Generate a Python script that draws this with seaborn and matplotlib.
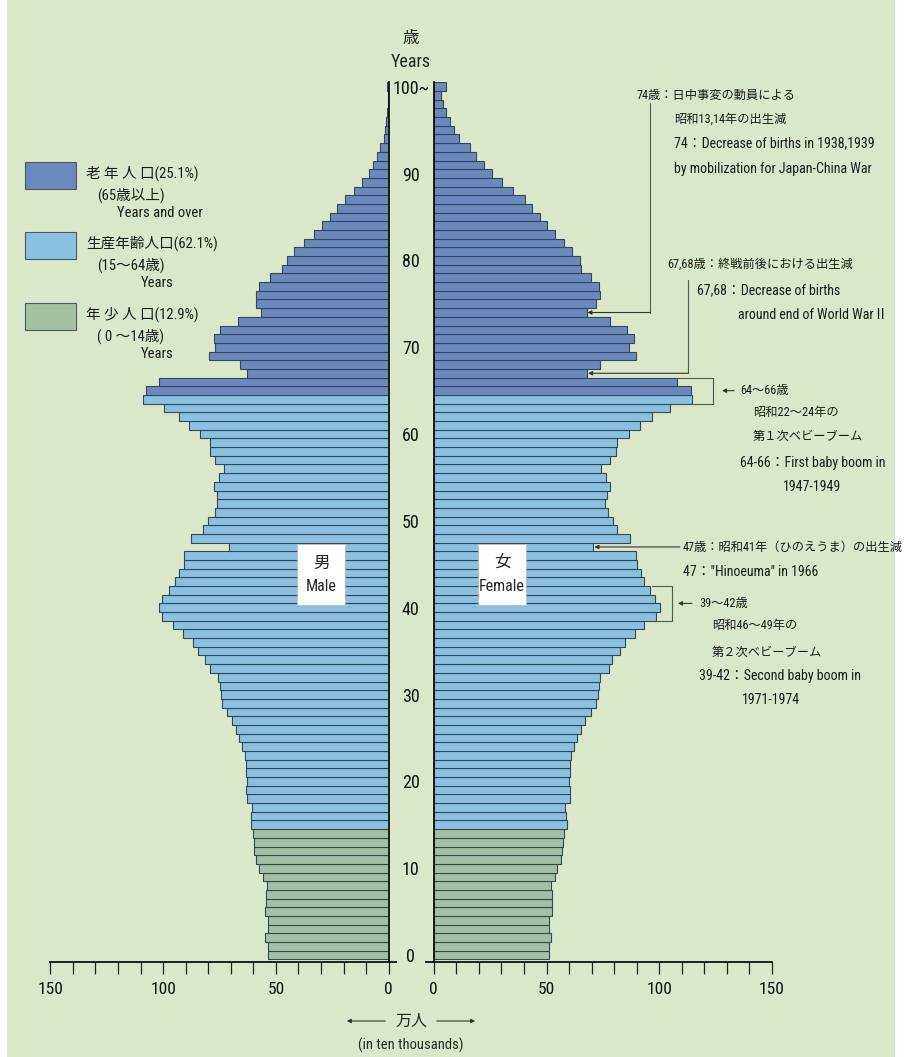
import matplotlib
matplotlib.use("Agg")
import numpy as np
import pandas as pd
import matplotlib.pyplot as plt
import seaborn as sns
from matplotlib.patches import Rectangle, FancyArrowPatch
from matplotlib.ticker import MultipleLocator
from matplotlib import font_manager

# population by single year of age (10,000 persons)
ages = list(range(101))
male = [53.3, 53.3, 54.7, 53.3, 53.3, 54.7, 54.4, 54.3, 54.0, 55.9,
        57.3, 58.7, 59.5, 59.9, 60.2, 60.9, 60.9, 60.6, 62.6, 63.3,
        62.8, 63.3, 63.1, 63.8, 64.9, 66.2, 67.7, 69.4, 71.7, 73.9,
        74.3, 74.7, 75.7, 79.1, 81.3, 84.6, 86.8, 91.4, 95.4, 100.5,
        102.0, 100.5, 97.6, 94.9, 93.0, 90.9, 90.9, 70.6, 87.7, 82.1,
        79.9, 77.2, 76.0, 76.3, 77.5, 75.1, 72.9, 76.8, 79.4, 79.1,
        83.8, 88.3, 92.9, 99.8, 108.7, 107.5, 101.6, 62.9, 66.1, 79.7,
        76.9, 77.6, 74.7, 66.6, 56.7, 59.0, 59.0, 57.3, 52.8, 47.4,
        45.1, 41.9, 37.5, 33.3, 29.6, 26.2, 22.9, 19.2, 15.2, 11.8,
        8.9, 6.9, 5.2, 4.0, 2.2, 1.5, 1.0, 0.7, 0.5, 0.4, 0.7]
female = [51.1, 51.1, 52.0, 51.2, 51.2, 52.6, 52.3, 52.3, 51.8, 53.7,
          54.5, 56.3, 57.0, 57.4, 57.9, 58.9, 58.6, 58.3, 60.2, 60.4,
          59.9, 60.4, 60.2, 61.0, 62.4, 63.6, 65.4, 66.9, 69.8, 72.1,
          72.7, 73.3, 73.9, 77.7, 79.2, 82.8, 85.0, 89.1, 93.2, 98.4,
          100.2, 98.0, 95.7, 93.1, 92.0, 90.3, 89.8, 70.6, 87.1, 81.4,
          79.5, 77.2, 76.1, 76.8, 78.1, 76.5, 74.3, 78.0, 80.9, 81.2,
          86.4, 91.6, 96.9, 104.6, 114.6, 114.1, 108.0, 68.1, 73.6, 89.5,
          86.6, 88.6, 85.8, 78.0, 67.8, 72.1, 73.6, 73.1, 69.6, 65.1,
          64.7, 61.5, 57.7, 53.7, 50.4, 47.1, 43.7, 40.4, 35.3, 30.1,
          25.9, 22.4, 18.7, 16.0, 11.1, 9.1, 7.4, 5.6, 3.9, 3.2, 5.3]
age_ticks = [0, 10, 20, 30, 40, 50, 60, 70, 80, 90, 100]
age_tick_labels = ['0', '10', '20', '30', '40', '50', '60', '70', '80', '90', '100~']
group_names = ['年少人口', '生産年齢人口', '老年人口']
group_colors = ['#a5c0a0', '#8cc0e1', '#6c89bd']
legend_lines = [
    ['老 年 人 口(25.1%)', '(65歳以上)', 'Years and over'],
    ['生産年齢人口(62.1%)', '(15～64歳)', 'Years'],
    ['年 少 人 口(12.9%)', '( 0 ～14歳)', 'Years'],
]

BG = '#d9e8c8'
EDGE = '#34465a'
W, H = 907, 1057

sns.set_theme(style='ticks')
installed = {f.name for f in font_manager.fontManager.ttflist}
latin = [n for n in ['Roboto Condensed', 'Liberation Sans Narrow', 'Liberation Sans']
         if n in installed][:1]
plt.rcParams['font.family'] = latin + ['Noto Sans CJK JP', 'DejaVu Sans']

df = pd.DataFrame({'age': ages, 'male': male, 'female': female})
df['group'] = np.select([df['age'] < 15, df['age'] < 65],
                        [group_names[0], group_names[1]], group_names[2])
palette = dict(zip(group_names, group_colors))


def fx(x):
    return x / W


def fy(y):
    return 1 - y / H


fig = plt.figure(figsize=(W / 100, H / 100), dpi=100)
fig.patch.set_facecolor('white')
fig.add_artist(Rectangle((fx(7), 0), fx(888), 1, transform=fig.transFigure,
                         facecolor=BG, edgecolor='none', zorder=-10))

ax_m = fig.add_axes([fx(50.3), fy(962), fx(338.4), (962 - 82.4) / H])
ax_f = fig.add_axes([fx(433.8), fy(962), fx(338.2), (962 - 82.4) / H])

for ax, col in ((ax_m, 'male'), (ax_f, 'female')):
    sns.barplot(data=df, x=col, y='age', hue='group', hue_order=group_names,
                palette=palette, orient='h', native_scale=True, dodge=False,
                width=1, errorbar=None, saturation=1, edgecolor=EDGE,
                linewidth=0.8, legend=False, ax=ax)
    ax.set_facecolor('none')
    ax.set_xlabel('')
    ax.set_ylabel('')
    ax.xaxis.set_major_locator(MultipleLocator(50))
    ax.xaxis.set_minor_locator(MultipleLocator(10))
    ax.tick_params(axis='x', which='both', direction='out', length=8.6,
                   width=0.9, color='#222222', pad=6, labelsize=12.5,
                   labelcolor='#111111')
    ax.spines['top'].set_visible(False)
    for s in ax.spines.values():
        s.set_color('#111111')
        s.set_linewidth(1.3)

ax_m.set_xlim(150, 0)
ax_f.set_xlim(0, 150)
ax_m.spines['left'].set_visible(False)
ax_f.spines['right'].set_visible(False)
ax_m.spines['bottom'].set_bounds(-3.2, 150)
ax_f.spines['bottom'].set_bounds(-3.4, 150)
ax_m.set_yticks([])
ax_f.set_yticks(age_ticks)
ax_f.set_yticklabels(age_tick_labels, fontsize=13, color='#111111')
ax_f.tick_params(axis='y', length=0, pad=16.6)
for lab in ax_f.get_yticklabels():
    lab.set_horizontalalignment('center')

# male / female boxes
for ax, x0, x1, top, bottom in ((ax_m, 19.3, 40.6, '男', 'Male'),
                                (ax_f, 19.6, 40.9, '女', 'Female')):
    ax.add_patch(Rectangle((x0, 40.3), x1 - x0, 7.0, facecolor='white',
                           edgecolor='#bbbbbb', linewidth=0.6, zorder=3))
    ax.text((x0 + x1) / 2, 45.1, top, ha='center', va='center', fontsize=12, zorder=4)
    ax.text((x0 + x1) / 2, 42.4, bottom, ha='center', va='center', fontsize=11.5, zorder=4)

# annotations on the female side
LC = '#555555'
note_kw = dict(ha='left', va='center', color='#1a1a1a', clip_on=False)
arrow_kw = dict(arrowstyle='-|>', color='#333333', lw=0.8, mutation_scale=6,
                shrinkA=0, shrinkB=0)

JP, EN = 8.8, 10
notes = [
    (90.1, 99.0, '74歳：日中事変の動員による', JP),
    (106.5, 96.3, '昭和13,14年の出生減', JP),
    (106.5, 93.5, '74：Decrease of births in 1938,1939', EN),
    (106.5, 90.5, 'by mobilization for Japan-China War', EN),
    (103.4, 79.5, '67,68歳：終戦前後における出生減', JP),
    (116.7, 76.5, '67,68：Decrease of births', EN),
    (134.9, 73.7, 'around end of World WarⅡ', EN),
    (135.8, 65.0, '64～66歳', JP),
    (141.5, 62.5, '昭和22～24年の', JP),
    (141.5, 59.7, '第１次ベビーブーム', JP),
    (135.8, 56.7, '64-66：First baby boom in', EN),
    (154.9, 53.9, '1947-1949', EN),
    (110.5, 47.0, '47歳：昭和41年（ひのえうま）の出生減', JP),
    (110.5, 44.1, '47："Hinoeuma" in 1966', EN),
    (117.6, 40.5, '39～42歳', JP),
    (123.3, 37.9, '昭和46～49年の', JP),
    (123.3, 34.9, '第２次ベビーブーム', JP),
    (117.6, 32.1, '39-42：Second baby boom in', EN),
    (136.6, 29.4, '1971-1974', EN),
]
for x, y, s, size in notes:
    ax_f.text(x, y, s, fontsize=size, **note_kw)

# leader to age 74
ax_f.plot([95.9, 95.9], [98.1, 74], color=LC, lw=0.8, clip_on=False)
ax_f.annotate('', xy=(female[74] + 0.3, 74), xytext=(95.9, 74), arrowprops=arrow_kw)
# leader to age 67
ax_f.plot([112.7, 112.7], [77.7, 67], color=LC, lw=0.8, clip_on=False)
ax_f.annotate('', xy=(female[67] + 0.3, 67), xytext=(112.7, 67), arrowprops=arrow_kw)
# bracket 64-66
ax_f.plot([female[66] + 0.5, 123.8, 123.8, female[64] + 0.5], [66.5, 66.5, 63.5, 63.5],
          color=LC, lw=0.8, clip_on=False)
ax_f.annotate('', xy=(127.8, 65.0), xytext=(133.2, 65.0), arrowprops=arrow_kw)
# hinoeuma
ax_f.annotate('', xy=(female[47] + 0.6, 47), xytext=(109.2, 47), arrowprops=arrow_kw)
# bracket 39-42
ax_f.plot([female[42] + 0.9, 105.6, 105.6, female[39] + 0.4], [42.5, 42.5, 38.5, 38.5],
          color=LC, lw=0.8, clip_on=False)
ax_f.annotate('', xy=(108.3, 40.5), xytext=(114.5, 40.5), arrowprops=arrow_kw)

for ax in (ax_m, ax_f):
    ax.set_ylim(-0.8, 100.5)

# legend
leg_y = [162, 232, 303]
for (lines, top, color) in zip(legend_lines, leg_y, group_colors[::-1]):
    fig.add_artist(Rectangle((fx(25), fy(top + 27)), fx(51), 27 / H,
                             transform=fig.transFigure, facecolor=color,
                             edgecolor='#4a5868', linewidth=0.8))
    fig.text(fx(86), fy(top + 11), lines[0], fontsize=10.5, va='center', color='#1a1a1a')
    fig.text(fx(97), fy(top + 33), lines[1], fontsize=10.5, va='center', color='#1a1a1a')
    xo = 117 if lines[2].startswith('Years and') else 141
    fig.text(fx(xo), fy(top + 51), lines[2], fontsize=10.5, va='center', color='#1a1a1a')

# center headings and unit
fig.text(fx(411), fy(38), '歳', ha='center', va='center', fontsize=12)
fig.text(fx(411), fy(62), 'Years', ha='center', va='center', fontsize=13)
fig.text(fx(411), fy(1021), '万人', ha='center', va='center', fontsize=11.5)
fig.text(fx(411), fy(1045), '(in ten thousands)', ha='center', va='center', fontsize=10.5)
for a, b in ((388, 344), (434, 478)):
    fig.add_artist(FancyArrowPatch((fx(a), fy(1021)), (fx(b), fy(1021)),
                                   transform=fig.transFigure, arrowstyle='-|>',
                                   mutation_scale=6, color='#333333', lw=0.8))

fig.savefig('out.png', dpi=100)
